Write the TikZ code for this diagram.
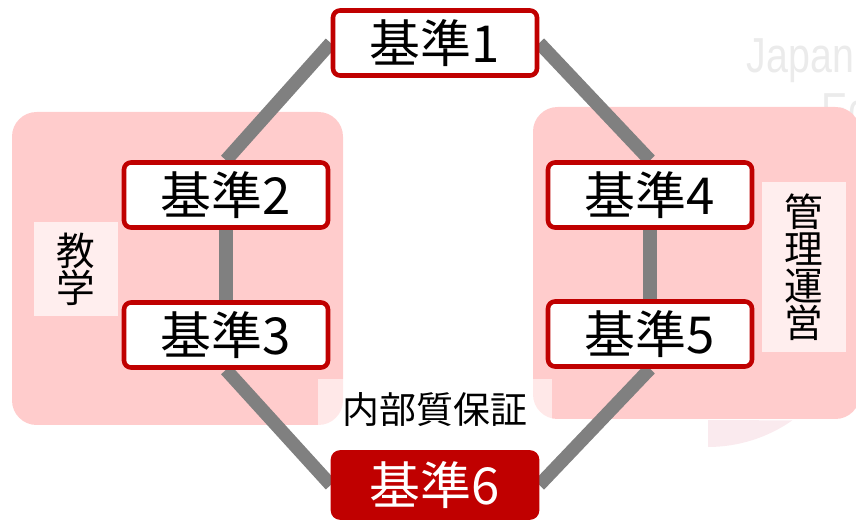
\documentclass[tikz,border=0pt]{standalone}
\usepackage{fontspec}
\newfontfamily\jpfont{Noto Sans CJK JP}
\setsansfont{Liberation Sans}
\definecolor{kijunred}{RGB}{192,0,0}
\definecolor{areapink}{RGB}{255,204,204}
\definecolor{labelpink}{RGB}{255,238,238}
\definecolor{linkgray}{RGB}{128,128,128}
\definecolor{markpink}{RGB}{250,234,238}
\pgfdeclarelayer{back}
\pgfdeclarelayer{links}
\pgfsetlayers{back,links,main}
\begin{document}
\begin{tikzpicture}[x=0.02cm, y=-0.02cm,
    kijun/.style={draw=kijunred, line width=2.6pt, fill=white, rounded corners=4pt,
      minimum width=4.08cm, minimum height=1.3cm, inner sep=0pt,
      font=\jpfont\fontsize{29}{32}\selectfont},
    kijunmain/.style={kijun, fill=kijunred, text=white},
    area/.style={fill=areapink, rounded corners=14pt},
    arealabel/.style={fill=labelpink, inner sep=0pt, align=center,
      font=\jpfont\fontsize{22}{21}\selectfont},
    watermark/.style={anchor=base west, text=black!8, xscale=0.8,
      font=\sffamily\fontsize{28}{28}\selectfont},
    link/.style={draw=linkgray, line width=7.6pt}]
        \useasboundingbox (0,0) rectangle (856,520);

        \begin{pgfonlayer}{back}
        % Faint background marks
        \node[watermark] (japan) at (742,73) {Japan};
        \node[watermark] (ed) at (817,128) {Ed};
        \fill[markpink] (708,420) -- (708,447) arc (90:55:147) -- cycle;

        % Draw the two areas
        \fill[area] (12,112) rectangle (343,425);
        \fill[area] (533,107) rectangle (860,419);
        \end{pgfonlayer}

        % Area labels
        \node[arealabel, minimum width=1.7cm, minimum height=1.88cm] (kyogaku) at (76,269) {教\\学};
        \node[arealabel, minimum width=1.7cm, minimum height=3.42cm] (kanri) at (804,267) {管\\理\\運\\営};
        \node[fill=white, fill opacity=0.55, text opacity=1, minimum width=4.68cm, minimum height=1.24cm,
          font=\jpfont\fontsize{21}{24}\selectfont] (naibu) at (435,410) {内部質保証};

        % Draw the standards
        \node[kijun] (k1) at (435,43) {基準1};
        \node[kijun] (k2) at (226,195) {基準2};
        \node[kijun] (k3) at (226,335) {基準3};
        \node[kijun] (k4) at (650,195) {基準4};
        \node[kijun] (k5) at (650,334) {基準5};
        \node[kijunmain] (k6) at (435,485) {基準6};

        % Connect them
        \begin{pgfonlayer}{links}
        \draw[link] (k1.west) -- (k2.north);
        \draw[link] (k2.south) -- (k3.north);
        \draw[link] (k3.south) -- (k6.west);
        \draw[link] (k1.east) -- (k4.north);
        \draw[link] (k4.south) -- (k5.north);
        \draw[link] (k5.south) -- (k6.east);
        \end{pgfonlayer}
\end{tikzpicture}
\end{document}
